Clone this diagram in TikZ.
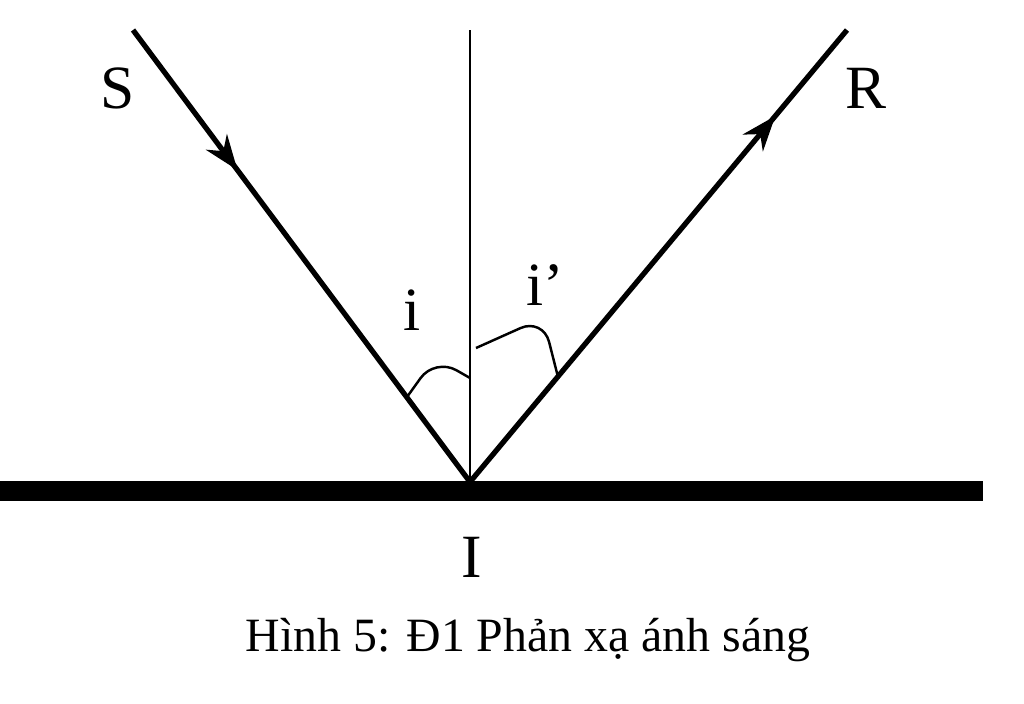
\documentclass[tikz,border=0pt]{standalone}
\usepackage{fontspec}
\setmainfont{Liberation Serif}
\usetikzlibrary{arrows.meta,decorations.markings}
\tikzset{
  ray/.style={line width=1.5pt},
  normalline/.style={line width=0.7pt},
  mirror/.style={line width=5.8pt},
  anglearc/.style={line width=0.7pt, rounded corners=7pt},
  lbl/.style={font=\fontsize{17.5}{20}\selectfont},
  arrowat/.style={postaction={decorate, decoration={markings,
      mark=at position #1 with {\arrow{Stealth[length=3.5mm,width=2.6mm]}}}}}
}
\begin{document}
\begin{tikzpicture}
        \useasboundingbox (0,0) rectangle (10.24,7.03);
        % Nodes
        \coordinate (I0) at (4.70,2.21);
        \coordinate (N0) at (4.70,6.73);
        \coordinate (S0) at (1.33,6.73);
        \coordinate (R0) at (8.47,6.73);
        \coordinate (ML) at (0,2.12);
        \coordinate (MR) at (9.83,2.12);
        \coordinate (a1) at (4.07,3.06);
        \coordinate (a2) at (4.70,3.25);
        \coordinate (b1) at (4.76,3.55);
        \coordinate (b2) at (5.58,3.26);
        \node (S) [lbl] at (1.18,6.15) {S};
        \node (R) [lbl] at (8.66,6.15) {R};
        \node (I) [lbl] at (4.72,1.46) {I};
        \node (i) [lbl] at (4.12,3.93) {i};
        \node (ip) [lbl] at (5.45,4.18) {i’};
        \node (cap) [font=\fontsize{13.6}{16}\selectfont] at (5.28,0.63) {Hình 5: Đ1 Phản xạ ánh sáng};

        % Edges
        \draw[mirror] (ML) -- (MR);
        \draw[normalline] (I0) -- (N0);
        \draw[ray, arrowat=0.31] (S0) -- (I0);
        \draw[ray, arrowat=0.81] (I0) -- (R0);
        \draw[anglearc] (a1) -- (4.35,3.45) -- (a2);
        \draw[anglearc] (b1) -- (5.43,3.85) -- (b2);

    \end{tikzpicture}
\end{document}
